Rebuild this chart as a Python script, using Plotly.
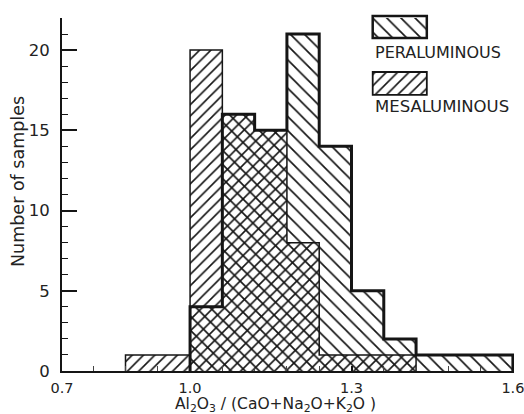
import numpy as np
import plotly.graph_objects as go

# ---- data ----
per_edges = [1.00, 1.06, 1.12, 1.18, 1.24, 1.30, 1.36, 1.42, 1.60]
per_counts = [4, 16, 15, 21, 14, 5, 2, 1]

meso_edges = [0.88, 1.00, 1.06, 1.12, 1.18, 1.24, 1.42]
meso_counts = [1, 20, 16, 15, 8, 1]

x_tick_vals = [0.762, 1.0, 1.3, 1.6]
x_tick_text = ["0.7", "1.0", "1.3", "1.6"]
y_tick_vals = [0, 5, 10, 15, 20]

series_names = ["PERALUMINOUS", "MESALUMINOUS"]

INK = "#151515"
TXT = "#222"
FONT = "DejaVu Sans"


def centers_widths(edges):
    e = np.asarray(edges, dtype=float)
    return (e[:-1] + e[1:]) / 2, np.diff(e)


def step_outline(edges, counts):
    xs, ys = [edges[0]], [0]
    for i, c in enumerate(counts):
        xs += [edges[i], edges[i + 1]]
        ys += [c, c]
    xs.append(edges[-1])
    ys.append(0)
    return xs, ys


fig = go.Figure()

transparent = "rgba(0,0,0,0)"
meso_pattern = dict(shape="/", size=8, solidity=0.2,
                    fgcolor=INK, bgcolor=transparent, fillmode="replace")
per_pattern = dict(shape="\\", size=10, solidity=0.17,
                   fgcolor=INK, bgcolor=transparent, fillmode="replace")

mc, mw = centers_widths(meso_edges)
fig.add_trace(go.Bar(
    x=mc, y=meso_counts, width=mw,
    marker=dict(color=transparent, line=dict(width=0), pattern=meso_pattern),
    showlegend=False, hoverinfo="skip"))

pc, pw = centers_widths(per_edges)
fig.add_trace(go.Bar(
    x=pc, y=per_counts, width=pw,
    marker=dict(color=transparent, line=dict(width=0), pattern=per_pattern),
    showlegend=False, hoverinfo="skip"))

mx, my = step_outline(meso_edges, meso_counts)
fig.add_trace(go.Scatter(x=mx, y=my, mode="lines",
                         line=dict(color=INK, width=1.5),
                         showlegend=False, hoverinfo="skip"))

px_, py_ = step_outline(per_edges, per_counts)
fig.add_trace(go.Scatter(x=px_, y=py_, mode="lines",
                         line=dict(color=INK, width=3),
                         showlegend=False, hoverinfo="skip"))

# ---- legend swatches: patterned bars on an overlay axis + paper outlines ----
leg_x_dom = [0.6874, 0.8071]
leg_y_dom = [0.782, 1.0]
leg_boxes = [(0.739, 1.026), (0.0, 0.298)]


def y2_to_paper(v):
    return leg_y_dom[0] + v * (leg_y_dom[1] - leg_y_dom[0])


fig.add_trace(go.Bar(
    x=[0.5], y=[leg_boxes[0][1] - leg_boxes[0][0]], base=[leg_boxes[0][0]],
    width=[1], xaxis="x2", yaxis="y2", cliponaxis=False,
    marker=dict(color=transparent, line=dict(width=0), pattern=per_pattern),
    showlegend=False, hoverinfo="skip"))
fig.add_trace(go.Bar(
    x=[0.5], y=[leg_boxes[1][1] - leg_boxes[1][0]], base=[leg_boxes[1][0]],
    width=[1], xaxis="x2", yaxis="y2", cliponaxis=False,
    marker=dict(color=transparent, line=dict(width=0), pattern=meso_pattern),
    showlegend=False, hoverinfo="skip"))

shapes = [
    dict(type="rect", xref="paper", yref="paper",
         x0=leg_x_dom[0], x1=leg_x_dom[1],
         y0=y2_to_paper(leg_boxes[0][0]), y1=y2_to_paper(leg_boxes[0][1]),
         line=dict(color=INK, width=2.5), fillcolor=transparent),
    dict(type="rect", xref="paper", yref="paper",
         x0=leg_x_dom[0], x1=leg_x_dom[1],
         y0=y2_to_paper(leg_boxes[1][0]), y1=y2_to_paper(leg_boxes[1][1]),
         line=dict(color=INK, width=1.8), fillcolor=transparent),
]

fig.update_layout(
    width=524, height=414,
    margin=dict(l=62, r=10, t=18, b=43, autoexpand=False),
    paper_bgcolor="white", plot_bgcolor="white",
    barmode="overlay", bargap=0,
    showlegend=False,
    font=dict(family=FONT, color=TXT, size=16),
    shapes=shapes,
    xaxis=dict(
        range=[0.762, 1.602], showgrid=False, zeroline=False,
        showline=True, linecolor=INK, linewidth=2, automargin=False,
        tickmode="array", tickvals=x_tick_vals, ticktext=x_tick_text,
        ticks="inside", ticklen=5, tickwidth=1.5, tickcolor=INK,
        ticklabelstandoff=3, ticklabeloverflow="allow",
        tickfont=dict(size=14.5, family=FONT, color=TXT),
        minor=dict(tick0=1.0, dtick=0.06, ticks="inside", ticklen=5,
                   tickwidth=1, tickcolor="#444"),
    ),
    yaxis=dict(
        range=[0, 22], showgrid=False, zeroline=False,
        showline=True, linecolor=INK, linewidth=2, automargin=False,
        tickmode="array", tickvals=y_tick_vals,
        ticks="inside", ticklen=15, tickwidth=1.5, tickcolor=INK,
        ticklabelstandoff=7,
        tickfont=dict(size=16.5, family=FONT, color=TXT),
        minor=dict(dtick=1, ticks="inside", ticklen=6, tickwidth=1.2,
                   tickcolor=INK),
    ),
    xaxis2=dict(domain=leg_x_dom, range=[0, 1], visible=False,
                anchor="y2", fixedrange=True),
    yaxis2=dict(domain=leg_y_dom, range=[0, 1], visible=False,
                anchor="x2", fixedrange=True),
    annotations=[
        dict(text="Number of samples", textangle=-90, xref="paper", yref="paper",
             x=-0.0976, y=0.538, xanchor="center", yanchor="middle",
             showarrow=False, font=dict(size=17.5, family=FONT, color=TXT)),
        dict(text="Al<sub>2</sub>O<sub>3</sub> / (CaO+Na<sub>2</sub>O+K<sub>2</sub>O )",
             xref="paper", yref="paper", x=0.472, y=-0.1295,
             xanchor="center", yanchor="bottom", showarrow=False,
             font=dict(size=15.5, family=FONT, color=TXT)),
        dict(text=series_names[0], xref="paper", yref="paper",
             x=0.687, y=0.903, xanchor="left", yanchor="middle",
             showarrow=False, font=dict(size=16, family=FONT, color=TXT)),
        dict(text=series_names[1], xref="paper", yref="paper",
             x=0.687, y=0.750, xanchor="left", yanchor="middle",
             showarrow=False, font=dict(size=16.5, family=FONT, color=TXT)),
    ],
)

fig.write_html("out.html")
